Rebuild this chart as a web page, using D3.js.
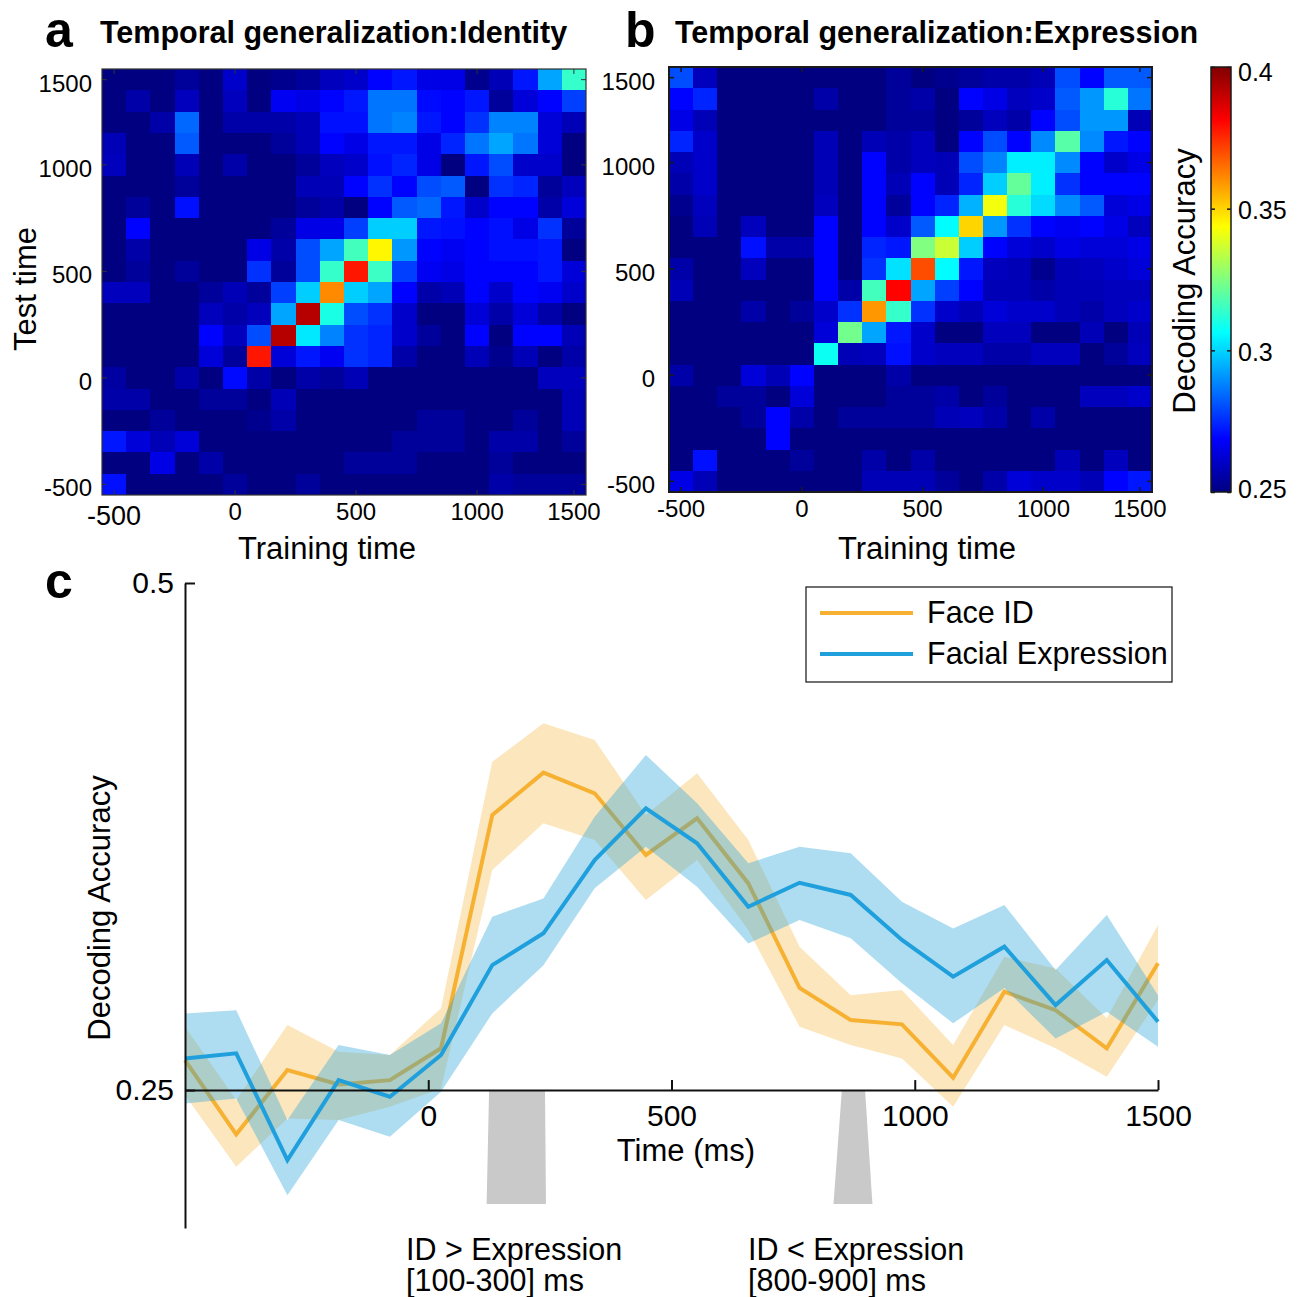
<!DOCTYPE html>
<html><head><meta charset="utf-8">
<script src="https://cdn.jsdelivr.net/npm/d3@7/dist/d3.min.js"></script>
<style>
body{margin:0;background:#fff}
text{font-family:"Liberation Sans",Arial,Helvetica,sans-serif;fill:#000}
</style>
</head><body>
<svg id="fig" width="1298" height="1297" xmlns="http://www.w3.org/2000/svg"></svg>
<script>
// ---------------- DATA ----------------
const heatCells = [0,1,2,3,4,5,6,7,8,9,10,11,12,13,14,15,16,17,18,19];
const heatTickIndex = [0,5,10,15,19];
const heatTickLabels = ["-500","0","500","1000","1500"];

// rows listed from top (test 1500) to bottom (test -500); columns: training -500 -> 1500
const identityGrid = [
 [.250,.250,.250,.254,.250,.261,.250,.252,.254,.259,.261,.269,.272,.265,.265,.252,.258,.272,.293,.314],
 [.250,.256,.250,.259,.250,.259,.250,.267,.265,.269,.272,.286,.286,.270,.269,.272,.254,.263,.269,.278],
 [.250,.250,.256,.284,.250,.256,.256,.256,.258,.271,.271,.286,.288,.272,.269,.276,.288,.288,.263,.258],
 [.258,.250,.250,.282,.250,.250,.250,.254,.258,.269,.265,.272,.272,.265,.274,.286,.293,.286,.263,.250],
 [.259,.250,.250,.258,.250,.256,.250,.250,.254,.259,.261,.271,.274,.265,.250,.272,.280,.261,.261,.250],
 [.250,.250,.250,.254,.250,.250,.250,.250,.258,.258,.269,.276,.269,.280,.282,.250,.276,.274,.254,.259],
 [.250,.254,.250,.271,.250,.250,.250,.250,.254,.256,.250,.269,.282,.284,.272,.261,.269,.269,.256,.263],
 [.250,.269,.250,.250,.250,.250,.250,.254,.265,.265,.278,.299,.299,.272,.271,.269,.271,.265,.276,.254],
 [.250,.256,.250,.250,.250,.250,.265,.256,.280,.293,.316,.345,.291,.269,.267,.269,.271,.271,.272,.250],
 [.250,.254,.250,.254,.250,.250,.276,.254,.280,.314,.378,.315,.278,.267,.265,.269,.269,.269,.272,.263],
 [.259,.259,.250,.250,.254,.258,.254,.278,.299,.361,.299,.293,.269,.256,.258,.269,.261,.269,.267,.261],
 [.250,.250,.250,.250,.259,.256,.259,.293,.392,.310,.280,.276,.261,.250,.250,.263,.256,.263,.256,.250],
 [.250,.250,.250,.250,.269,.259,.280,.392,.303,.288,.276,.274,.261,.254,.250,.269,.250,.269,.269,.258],
 [.250,.250,.250,.250,.263,.254,.378,.263,.272,.267,.276,.274,.256,.250,.250,.258,.252,.258,.250,.256],
 [.255,.250,.250,.256,.250,.270,.256,.250,.256,.254,.258,.250,.250,.250,.250,.250,.250,.250,.259,.259],
 [.256,.256,.250,.250,.254,.254,.250,.258,.250,.250,.250,.250,.250,.250,.250,.250,.250,.250,.250,.258],
 [.250,.250,.254,.250,.250,.250,.252,.256,.250,.250,.250,.250,.250,.254,.254,.250,.250,.254,.250,.258],
 [.272,.263,.258,.263,.250,.250,.250,.250,.250,.250,.250,.250,.254,.254,.254,.250,.256,.256,.250,.254],
 [.250,.250,.265,.250,.256,.250,.250,.250,.250,.250,.254,.254,.254,.250,.250,.250,.254,.250,.250,.250],
 [.271,.250,.250,.250,.250,.254,.250,.250,.254,.250,.250,.250,.250,.250,.250,.250,.256,.254,.254,.254]
];

const expressionGrid = [
 [.280,.259,.250,.250,.250,.250,.250,.250,.250,.254,.250,.252,.254,.256,.256,.258,.280,.269,.282,.282],
 [.269,.274,.250,.250,.250,.250,.256,.250,.250,.254,.256,.250,.269,.265,.259,.261,.282,.291,.312,.286],
 [.265,.258,.250,.250,.250,.250,.250,.250,.250,.254,.254,.250,.254,.259,.256,.269,.280,.291,.291,.258],
 [.274,.261,.250,.250,.250,.250,.258,.250,.258,.256,.259,.250,.269,.280,.269,.289,.319,.289,.272,.269],
 [.258,.261,.250,.250,.250,.250,.258,.250,.269,.256,.259,.258,.280,.288,.304,.304,.289,.269,.261,.265],
 [.256,.261,.250,.250,.250,.250,.258,.250,.269,.258,.269,.258,.274,.299,.321,.304,.276,.269,.269,.269],
 [.252,.259,.250,.250,.250,.250,.259,.250,.269,.254,.269,.274,.295,.342,.312,.301,.289,.282,.263,.265],
 [.250,.258,.250,.259,.250,.250,.269,.250,.269,.261,.282,.306,.350,.291,.276,.269,.267,.269,.265,.259],
 [.250,.250,.250,.271,.256,.256,.269,.250,.274,.272,.325,.336,.299,.269,.263,.261,.265,.263,.263,.265],
 [.256,.250,.250,.259,.250,.250,.269,.250,.276,.302,.370,.306,.272,.259,.258,.252,.258,.259,.261,.263],
 [.258,.250,.250,.250,.250,.250,.269,.256,.316,.381,.293,.278,.269,.258,.258,.256,.258,.258,.259,.259],
 [.250,.250,.250,.256,.250,.254,.261,.276,.359,.314,.276,.261,.258,.263,.261,.261,.258,.256,.259,.261],
 [.250,.250,.250,.250,.250,.250,.263,.323,.293,.272,.261,.250,.250,.259,.259,.250,.250,.258,.250,.258],
 [.250,.250,.250,.250,.250,.250,.308,.258,.259,.271,.261,.259,.259,.256,.256,.259,.259,.250,.254,.259],
 [.256,.250,.250,.263,.258,.269,.250,.250,.250,.256,.250,.250,.250,.250,.250,.250,.250,.250,.250,.250],
 [.250,.250,.254,.254,.250,.263,.250,.250,.250,.254,.254,.256,.250,.254,.250,.250,.250,.259,.259,.261],
 [.250,.250,.250,.254,.269,.256,.250,.254,.254,.254,.254,.258,.259,.256,.250,.256,.250,.250,.250,.250],
 [.250,.250,.250,.250,.269,.250,.250,.250,.250,.250,.250,.250,.250,.250,.250,.250,.250,.250,.250,.250],
 [.250,.271,.250,.250,.250,.254,.250,.250,.256,.250,.256,.250,.250,.250,.250,.250,.258,.250,.259,.250],
 [.265,.258,.250,.250,.250,.250,.250,.250,.258,.258,.258,.254,.250,.256,.263,.261,.261,.258,.269,.272]
];

const colorbarTicks = [0.25,0.3,0.35,0.4];
const colorbarTickLabels = ["0.25","0.3","0.35","0.4"];

// time course (panel c)
const timeMs = [-500,-394.7,-289.5,-184.2,-78.9,26.3,131.6,236.8,342.1,447.4,552.6,657.9,763.2,868.4,973.7,1078.9,1184.2,1289.5,1394.7,1500];
const faceIdMean  = [.2648,.2282,.2599,.2528,.2549,.2706,.3856,.4065,.3963,.3659,.3840,.3519,.3004,.2845,.2824,.2561,.2985,.2894,.2706,.3125];
const faceIdUpper = [.2812,.2451,.2821,.2689,.2673,.2903,.4119,.4308,.4226,.3856,.4062,.3733,.3207,.2968,.2993,.2722,.3157,.3100,.2854,.3314];
const faceIdLower = [.2475,.2122,.2360,.2352,.2418,.2508,.3585,.3815,.3733,.3437,.3634,.3289,.2812,.2722,.2656,.2418,.2821,.2706,.2566,.2944];
const exprMean  = [.2656,.2681,.2155,.2549,.2467,.2673,.3116,.3273,.3634,.3889,.3717,.3404,.3522,.3462,.3240,.3059,.3207,.2919,.3141,.2837];
const exprUpper = [.2878,.2894,.2352,.2722,.2673,.2829,.3355,.3445,.3848,.4152,.3914,.3618,.3700,.3667,.3429,.3297,.3412,.3092,.3363,.2968];
const exprLower = [.2434,.2459,.1982,.2352,.2270,.2492,.2878,.3116,.3495,.3700,.3502,.3223,.3338,.3248,.3027,.2829,.3003,.2754,.2886,.2714];
const timeTicks = [0,500,1000,1500];
const accTicks = [0.25,0.5];
const accTickLabels = ["0.25","0.5"];
const seriesNames = ["Face ID","Facial Expression"];
// significant windows (ms): [topStart, topEnd, bottomStart, bottomEnd]
const sigWindows = [[125,240,120,242],[850,898,833,913]];
const sigLabels = [["ID > Expression","[100-300] ms"],["ID < Expression","[800-900] ms"]];

// ---------------- DRAW ----------------
const svg = d3.select("#fig");
const FONT = '"Liberation Sans",Arial,Helvetica,sans-serif';
const LABEL = "31px";

const jetF = [0,0.125,0.375,0.625,0.875,1];
const jetC = ["#000080","#0000ff","#00ffff","#ffff00","#ff0000","#800000"];
const cmin = 0.25, cmax = 0.4;
const jet = d3.scaleLinear().domain(jetF.map(f => cmin + (cmax-cmin)*f)).range(jetC)
  .interpolate(d3.interpolateRgb).clamp(true);

function heatmap(grid, box, o) {
  const g = svg.append("g");
  const xB = d3.scaleBand().domain(heatCells).range([box.x0, box.x1]);
  const yB = d3.scaleBand().domain(heatCells.slice().reverse()).range([box.y0, box.y1]);
  const cells = [];
  grid.forEach((row, r) => row.forEach((v, c) => cells.push({c, t: 19 - r, v})));
  g.append("g").attr("shape-rendering","crispEdges").selectAll("rect").data(cells).join("rect")
    .attr("x", d => xB(d.c)).attr("y", d => yB(d.t))
    .attr("width", d => xB.bandwidth() + (d.c < 19 ? 0.6 : 0))
    .attr("height", d => yB.bandwidth() + (d.t > 0 ? 0.6 : 0))
    .attr("fill", d => jet(d.v));
  const fmt = (d) => heatTickLabels[heatTickIndex.indexOf(d)];
  const axStyle = sel => { sel.attr("font-family", FONT); sel.select(".domain").remove();
    sel.selectAll(".tick line").attr("stroke", o.border).attr("stroke-width", o.tickW); };
  const ax = g.append("g").attr("transform", `translate(0,${box.y1})`)
    .call(d3.axisBottom(xB).tickValues(heatTickIndex).tickFormat(fmt).tickSizeInner(-5).tickSizeOuter(0).tickPadding(o.xPad))
    .call(axStyle);
  ax.selectAll("text").attr("font-size", o.tickFont);
  if (o.bigFirst) ax.selectAll(".tick text").filter((d) => d === 0).attr("font-size", o.bigFirst).attr("dy","0.8em");
  g.append("g").attr("transform", `translate(0,${box.y0})`)
    .call(d3.axisTop(xB).tickValues(heatTickIndex).tickFormat("").tickSizeInner(-5).tickSizeOuter(0)).call(axStyle);
  const ay = g.append("g").attr("transform", `translate(${box.x0},0)`)
    .call(d3.axisLeft(yB).tickValues(heatTickIndex).tickFormat(fmt).tickSizeInner(-5).tickSizeOuter(0).tickPadding(o.yPad))
    .call(axStyle);
  ay.selectAll("text").attr("font-size", o.tickFont).attr("dy","0.5em");
  g.append("g").attr("transform", `translate(${box.x1},0)`)
    .call(d3.axisRight(yB).tickValues(heatTickIndex).tickFormat("").tickSizeInner(-5).tickSizeOuter(0)).call(axStyle);
  g.append("rect").attr("x", box.x0).attr("y", box.y0).attr("width", box.x1 - box.x0).attr("height", box.y1 - box.y0)
    .attr("fill","none").attr("stroke", o.border).attr("stroke-width", o.borderW);
  return g;
}

const boxA = {x0:102, x1:586, y0:69, y1:495};
const boxB = {x0:669, x1:1152, y0:67, y1:492};
heatmap(identityGrid, boxA, {border:"#333", borderW:1.2, tickW:1, tickFont:"24px", xPad:8, yPad:10, bigFirst:"27px"});
heatmap(expressionGrid, boxB, {border:"#1a1a1a", borderW:2, tickW:1.5, tickFont:"24px", xPad:8, yPad:14});

// titles & panel letters
svg.append("text").attr("x",45).attr("y",47).attr("font-size","50px").attr("font-weight","bold").text("a");
svg.append("text").attr("x",100).attr("y",43).attr("font-size","30.5px").attr("font-weight","bold").text("Temporal generalization:Identity");
svg.append("text").attr("x",625).attr("y",47).attr("font-size","50px").attr("font-weight","bold").text("b");
svg.append("text").attr("x",675).attr("y",43).attr("font-size","30.5px").attr("font-weight","bold").text("Temporal generalization:Expression");
svg.append("text").attr("x",45).attr("y",598).attr("font-size","50px").attr("font-weight","bold").text("c");

// axis labels heatmaps
svg.append("text").attr("transform","translate(36,289) rotate(-90)").attr("text-anchor","middle").attr("font-size",LABEL).text("Test time");
svg.append("text").attr("x",327).attr("y",559).attr("text-anchor","middle").attr("font-size",LABEL).text("Training time");
svg.append("text").attr("x",927).attr("y",559).attr("text-anchor","middle").attr("font-size",LABEL).text("Training time");

// colorbar
const cb = {x0:1211, x1:1231, y0:67, y1:492};
const defs = svg.append("defs");
const grad = defs.append("linearGradient").attr("id","jetGrad").attr("x1",0).attr("y1",1).attr("x2",0).attr("y2",0);
jetF.forEach((f, i) => grad.append("stop").attr("offset", f).attr("stop-color", jetC[i]));
svg.append("rect").attr("x",cb.x0).attr("y",cb.y0).attr("width",cb.x1-cb.x0).attr("height",cb.y1-cb.y0)
  .attr("fill","url(#jetGrad)").attr("stroke","#1a1a1a").attr("stroke-width",1.5);
const cy = d3.scaleLinear().domain([cmin, cmax]).range([cb.y1, cb.y0]);
const cax = svg.append("g").attr("transform",`translate(${cb.x1},0)`)
  .call(d3.axisRight(cy).tickValues(colorbarTicks).tickFormat((d,i)=>colorbarTickLabels[i]).tickSizeInner(-4).tickSizeOuter(0).tickPadding(7));
cax.attr("font-family", FONT); cax.select(".domain").remove();
cax.selectAll("text").attr("font-size","25px").attr("dy", (d,i)=> i===3 ? "0.55em" : (i===0 ? "0.2em" : "0.4em"));
cax.selectAll("line").attr("stroke","#1a1a1a").attr("stroke-width",1.5);
svg.append("g").attr("transform",`translate(${cb.x0},0)`)
  .call(d3.axisLeft(cy).tickValues(colorbarTicks).tickFormat("").tickSizeInner(-4).tickSizeOuter(0))
  .call(s => { s.select(".domain").remove(); s.selectAll("line").attr("stroke","#1a1a1a").attr("stroke-width",1.5); });
svg.append("text").attr("transform","translate(1195,281) rotate(-90)").attr("text-anchor","middle").attr("font-size",LABEL).text("Decoding Accuracy");

// ---------------- panel c ----------------
const X = d3.scaleLinear().domain([-500,1500]).range([185,1158]);
const Y = d3.scaleLinear().domain([0.182,0.5]).range([1228,583]);
const axisY = Y(0.25);
const orange = "#F6B133", blue = "#1FA0DC";

// significance shapes
const sigBottom = axisY + 114;
svg.append("g").selectAll("path").data(sigWindows).join("path")
  .attr("d", w => `M${X(w[0])},${axisY+1}L${X(w[1])},${axisY+1}L${X(w[3])},${sigBottom}L${X(w[2])},${sigBottom}Z`)
  .attr("fill","#c9c9c9");

const area = (up, lo) => d3.area().x((d,i)=>X(timeMs[i])).y0((d,i)=>Y(lo[i])).y1((d,i)=>Y(up[i]))(timeMs);
const line = (m) => d3.line().x((d,i)=>X(timeMs[i])).y((d,i)=>Y(m[i]))(timeMs);

svg.append("path").attr("d", area(faceIdUpper, faceIdLower)).attr("fill", orange).attr("fill-opacity",0.32);
svg.append("path").attr("d", line(faceIdMean)).attr("fill","none").attr("stroke",orange).attr("stroke-width",4).attr("stroke-linejoin","miter");
svg.append("path").attr("d", area(exprUpper, exprLower)).attr("fill", blue).attr("fill-opacity",0.36);
svg.append("path").attr("d", line(exprMean)).attr("fill","none").attr("stroke",blue).attr("stroke-width",4).attr("stroke-linejoin","miter");

// axes
const xa = svg.append("g").attr("transform",`translate(0,${axisY})`)
  .call(d3.axisBottom(X).tickValues(timeTicks).tickFormat(d3.format("d")).tickSizeInner(-10).tickSizeOuter(0).tickPadding(15));
xa.attr("font-family",FONT); xa.selectAll("text").attr("font-size","30px");
xa.select(".domain").attr("stroke","#111").attr("stroke-width",2);
xa.selectAll(".tick line").attr("stroke","#111").attr("stroke-width",2);
const ya = svg.append("g").attr("transform",`translate(${X(-500)},0)`)
  .call(d3.axisLeft(Y).tickValues(accTicks).tickFormat((d,i)=>accTickLabels[i]).tickSizeInner(-10).tickSizeOuter(0).tickPadding(11));
ya.attr("font-family",FONT); ya.selectAll("text").attr("font-size","30px");
ya.select(".domain").attr("stroke","#111").attr("stroke-width",2);
ya.selectAll(".tick line").attr("stroke","#111").attr("stroke-width",2);

svg.append("text").attr("x",686).attr("y",1161).attr("text-anchor","middle").attr("font-size",LABEL).text("Time (ms)");
svg.append("text").attr("transform","translate(110,908) rotate(-90)").attr("text-anchor","middle").attr("font-size",LABEL).text("Decoding Accuracy");

// annotations
const annX = [406, 748];
sigLabels.forEach((lab, i) => {
  svg.append("text").attr("x", annX[i]).attr("y",1260).attr("font-size","30.5px").text(lab[0]);
  svg.append("text").attr("x", annX[i]).attr("y",1291).attr("font-size","30.5px").text(lab[1]);
});

// legend
const lg = svg.append("g");
lg.append("rect").attr("x",806).attr("y",587).attr("width",366).attr("height",95).attr("fill","#fff").attr("stroke","#111").attr("stroke-width",1.2);
[orange, blue].forEach((c, i) => {
  const yy = 613 + i*41;
  lg.append("line").attr("x1",820).attr("x2",913).attr("y1",yy).attr("y2",yy).attr("stroke",c).attr("stroke-width",4);
  lg.append("text").attr("x",927).attr("y",yy+10).attr("font-size","30.5px").text(seriesNames[i]);
});
</script>
</body></html>
